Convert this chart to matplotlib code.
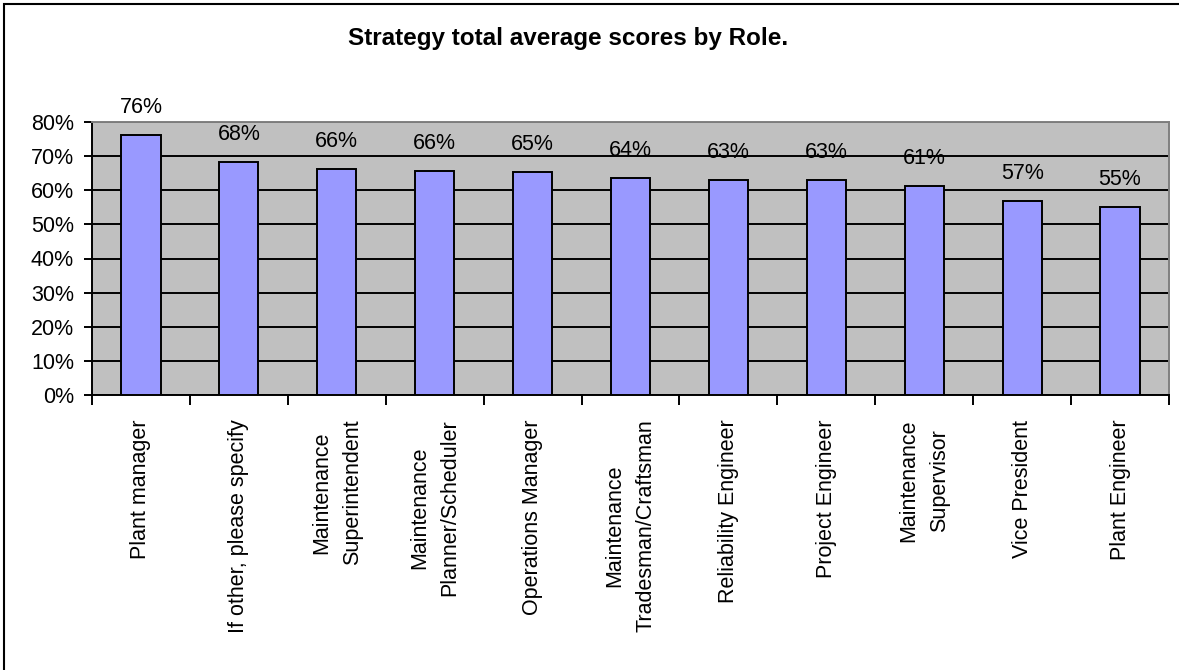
import matplotlib.pyplot as plt
from matplotlib.patches import Rectangle
from matplotlib.ticker import FuncFormatter

roles = ["Plant manager", "If other, please specify", "Maintenance\nSuperintendent",
         "Maintenance\nPlanner/Scheduler", "Operations Manager",
         "Maintenance\nTradesman/Craftsman", "Reliability Engineer", "Project Engineer",
         "Maintenance\nSupervisor", "Vice President", "Plant Engineer"]
scores = [76.2, 68.4, 66.2, 65.7, 65.3, 63.5, 63.0, 63.0, 61.3, 56.9, 55.2]
yticks = [0, 10, 20, 30, 40, 50, 60, 70, 80]

plt.rcParams['font.family'] = ['Liberation Sans', 'DejaVu Sans']
FS = 15.5

W, H = 1179, 670
fig = plt.figure(figsize=(W / 100, H / 100), dpi=100)
fig.patches.append(Rectangle((4 / W, -0.05), 1.1, 1.05 - 4 / H, transform=fig.transFigure,
                             fill=False, edgecolor='black', linewidth=1.5))

ax = fig.add_axes([92 / W, 1 - 395 / H, (1169 - 92) / W, (395 - 122) / H])
ax.set_facecolor('#C0C0C0')

x = list(range(len(roles)))
ax.set_axisbelow(True)
ax.yaxis.grid(True, color='black', linewidth=1.4)
ax.bar(x, scores, width=0.4, color='#9999FF', edgecolor='black', linewidth=1.4, zorder=3)

for xi, v in zip(x, scores):
    ax.annotate(f"{v:.0f}%", (xi, v), xytext=(0, 17), textcoords='offset pixels',
                ha='center', va='bottom', fontsize=FS)

ax.set_xlim(-0.5, len(roles) - 0.5)
ax.set_ylim(0, 80)
ax.set_yticks(yticks)
ax.yaxis.set_major_formatter(FuncFormatter(lambda v, p: f"{v:.0f}%"))
ax.tick_params(axis='y', direction='out', length=6, width=1.4, labelsize=FS, pad=7)

# category boundaries carry the ticks, labels sit between them
ax.set_xticks([i - 0.5 for i in range(len(roles) + 1)])
ax.set_xticklabels([])
ax.tick_params(axis='x', direction='out', length=7, width=1.4)
for xi, r in zip(x, roles):
    ax.text(xi, -0.09, r, transform=ax.get_xaxis_transform(), rotation=90,
            ha='center', va='top', multialignment='center', fontsize=FS, linespacing=1.6)

for side in ['top', 'right']:
    ax.spines[side].set_color('#808080')
    ax.spines[side].set_linewidth(1.4)
for side in ['left', 'bottom']:
    ax.spines[side].set_color('black')
    ax.spines[side].set_linewidth(1.4)

fig.text(568 / W, 1 - 38 / H, "Strategy total average scores by Role.",
         ha='center', va='center', fontsize=17.5, fontweight='bold')

fig.savefig('out.png', dpi=100)
